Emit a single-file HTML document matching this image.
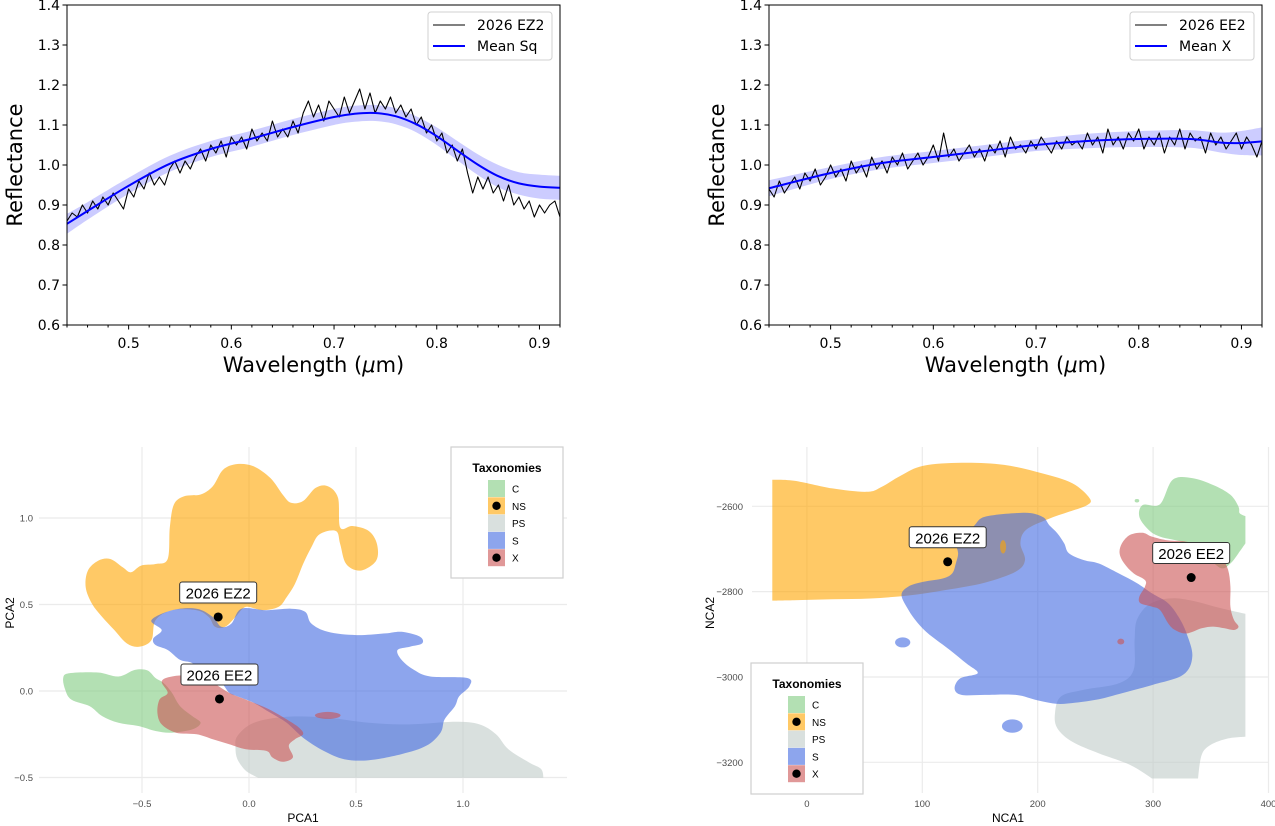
<!DOCTYPE html>
<html><head><meta charset="utf-8">
<style>
html,body{margin:0;padding:0;background:#fff;}
svg{display:block;}
.mpl{font-family:"DejaVu Sans","Liberation Sans",sans-serif;}
.gg{font-family:"Liberation Sans",sans-serif;}
</style></head>
<body>
<svg id="fig" width="1275" height="826" viewBox="0 0 1275 826" xmlns="http://www.w3.org/2000/svg">
<defs>
<clipPath id="clipPca"><rect x="30" y="440" width="545" height="338"/></clipPath>
<clipPath id="clipNca"><rect x="745" y="440" width="530" height="339"/></clipPath>
</defs>
<g id="spec1"></g>
<g id="spec2"></g>
<g id="pca"></g>
<g id="nca"></g>
</svg>
<script>
// ---------- spectra data ----------
const waveStart = 0.44, waveStep = 0.005;
const obsEZ2 = [0.86,0.88,0.87,0.90,0.88,0.91,0.89,0.92,0.90,0.93,0.91,0.89,0.94,0.92,0.96,0.94,0.98,0.95,0.97,0.95,0.99,1.01,0.98,1.01,0.99,1.02,1.04,1.01,1.05,1.03,1.06,1.02,1.07,1.05,1.07,1.04,1.09,1.06,1.08,1.06,1.11,1.07,1.09,1.07,1.11,1.08,1.13,1.16,1.12,1.15,1.11,1.16,1.14,1.12,1.17,1.13,1.16,1.19,1.14,1.18,1.13,1.16,1.14,1.17,1.13,1.15,1.12,1.14,1.10,1.12,1.08,1.10,1.06,1.08,1.03,1.05,1.01,1.04,0.98,0.93,0.97,0.94,0.97,0.93,0.95,0.91,0.95,0.90,0.92,0.89,0.91,0.87,0.90,0.88,0.90,0.91,0.87];
const obsEE2 = [0.94,0.92,0.96,0.93,0.95,0.97,0.94,0.98,0.96,0.99,0.95,0.97,1.00,0.97,0.99,0.96,1.01,0.98,1.00,0.97,1.02,0.99,1.01,0.98,1.02,1.00,1.03,0.99,1.01,1.03,1.00,1.02,1.05,1.01,1.08,1.02,1.04,1.01,1.03,1.05,1.02,1.04,1.01,1.05,1.03,1.06,1.02,1.07,1.04,1.05,1.03,1.06,1.04,1.07,1.05,1.03,1.06,1.04,1.07,1.05,1.06,1.04,1.08,1.05,1.07,1.03,1.09,1.05,1.07,1.04,1.08,1.06,1.09,1.04,1.07,1.05,1.08,1.03,1.07,1.05,1.09,1.04,1.08,1.06,1.07,1.03,1.08,1.05,1.07,1.04,1.06,1.08,1.04,1.07,1.05,1.02,1.06];
const meanSqX = [0.44,0.46,0.50,0.54,0.58,0.62,0.66,0.70,0.72,0.74,0.76,0.78,0.80,0.82,0.84,0.86,0.88,0.90,0.92];
const meanSqY = [0.853,0.885,0.948,1.003,1.040,1.066,1.095,1.120,1.128,1.130,1.122,1.102,1.072,1.036,1.001,0.972,0.954,0.946,0.943];
const bandSq  = [0.025,0.022,0.02,0.02,0.02,0.02,0.02,0.02,0.02,0.02,0.02,0.02,0.022,0.024,0.026,0.028,0.028,0.03,0.03];
const meanXX = [0.44,0.50,0.55,0.60,0.65,0.70,0.75,0.80,0.85,0.88,0.90,0.92];
const meanXY = [0.942,0.980,1.005,1.020,1.035,1.050,1.060,1.065,1.065,1.056,1.055,1.059];
const bandX  = [0.02,0.015,0.015,0.015,0.015,0.015,0.018,0.02,0.022,0.025,0.03,0.035];
const reflTicks = [0.6,0.7,0.8,0.9,1.0,1.1,1.2,1.3,1.4];
const waveTicks = [0.5,0.6,0.7,0.8,0.9];

// ---------- PCA data (data units) ----------
const pcaXTicks = [-0.5,0.0,0.5,1.0];
const pcaYTicks = [-0.5,0.0,0.5,1.0];
const pcaC = [[-0.868,0.075],[-0.840,0.103],[-0.706,0.107],[-0.610,0.084],[-0.533,0.122],[-0.475,0.119],[-0.437,0.075],[-0.399,0.046],[-0.360,-0.011],[-0.322,-0.088],[-0.265,-0.145],[-0.226,-0.184],[-0.265,-0.222],[-0.360,-0.241],[-0.437,-0.231],[-0.514,-0.203],[-0.610,-0.184],[-0.686,-0.145],[-0.744,-0.088],[-0.830,-0.050],[-0.859,0.008]];
const pcaNS = [[-0.753,0.696],[-0.705,0.753],[-0.648,0.763],[-0.590,0.715],[-0.552,0.686],[-0.504,0.725],[-0.437,0.734],[-0.380,0.763],[-0.370,0.945],[-0.351,1.078],[-0.303,1.126],[-0.226,1.136],[-0.169,1.184],[-0.121,1.279],[-0.054,1.312],[0.023,1.298],[0.100,1.231],[0.157,1.136],[0.196,1.088],[0.253,1.098],[0.311,1.174],[0.368,1.184],[0.416,1.117],[0.426,0.945],[0.483,0.954],[0.560,0.925],[0.598,0.849],[0.594,0.753],[0.521,0.696],[0.454,0.734],[0.426,0.849],[0.406,0.925],[0.330,0.906],[0.291,0.830],[0.253,0.734],[0.215,0.620],[0.176,0.543],[0.138,0.486],[0.061,0.467],[-0.015,0.486],[-0.063,0.428],[-0.111,0.371],[-0.159,0.371],[-0.188,0.428],[-0.245,0.467],[-0.360,0.467],[-0.437,0.409],[-0.456,0.294],[-0.514,0.256],[-0.571,0.275],[-0.629,0.352],[-0.686,0.428],[-0.734,0.505],[-0.763,0.600]];
const pcaPS = [[-0.054,-0.260],[0.023,-0.184],[0.176,-0.149],[0.368,-0.155],[0.560,-0.184],[0.752,-0.193],[0.962,-0.178],[1.077,-0.193],[1.154,-0.250],[1.212,-0.337],[1.308,-0.413],[1.365,-0.451],[1.375,-0.501],[1.375,-0.501],[0.042,-0.501],[0.042,-0.501],[-0.015,-0.461],[-0.054,-0.394],[-0.063,-0.327]];
const pcaS = [[-0.456,0.409],[-0.360,0.467],[-0.245,0.476],[-0.169,0.428],[-0.130,0.371],[-0.082,0.390],[-0.035,0.476],[0.081,0.467],[0.196,0.476],[0.263,0.457],[0.291,0.390],[0.368,0.342],[0.502,0.323],[0.637,0.333],[0.713,0.342],[0.799,0.314],[0.809,0.275],[0.752,0.256],[0.694,0.237],[0.713,0.180],[0.771,0.122],[0.847,0.084],[1.020,0.075],[1.030,0.027],[0.982,-0.031],[0.962,-0.088],[0.914,-0.164],[0.895,-0.241],[0.828,-0.317],[0.713,-0.365],[0.560,-0.400],[0.445,-0.394],[0.349,-0.346],[0.253,-0.270],[0.176,-0.184],[0.100,-0.126],[0.023,-0.069],[-0.054,-0.031],[-0.092,-0.011],[-0.130,0.046],[-0.207,0.103],[-0.265,0.161],[-0.322,0.180],[-0.380,0.237],[-0.437,0.266],[-0.447,0.304],[-0.408,0.352]];
const pcaX = [[-0.408,0.055],[-0.360,0.084],[-0.265,0.088],[-0.169,0.046],[-0.092,-0.011],[-0.015,-0.050],[0.081,-0.098],[0.176,-0.164],[0.234,-0.212],[0.253,-0.250],[0.215,-0.279],[0.186,-0.317],[0.205,-0.384],[0.157,-0.409],[0.109,-0.384],[0.081,-0.346],[-0.015,-0.337],[-0.092,-0.308],[-0.169,-0.279],[-0.245,-0.250],[-0.341,-0.241],[-0.408,-0.193],[-0.428,-0.126],[-0.418,-0.050],[-0.380,-0.011]];
const pcaXSmall = [0.368,-0.141,0.06,0.02];
const pcaPoints = [["2026 EZ2",-0.144,0.428],["2026 EE2",-0.138,-0.046]];

// ---------- NCA data ----------
const ncaXTicks = [0,100,200,300,400];
const ncaYTicks = [-3200,-3000,-2800,-2600];
const ncaC = [[288,-2624],[291,-2597],[306,-2595],[317,-2538],[334,-2534],[352,-2550],[367,-2573],[374,-2601],[375,-2616],[380,-2623],[380,-2623],[380,-2687],[380,-2687],[374,-2710],[367,-2734],[359,-2745],[346,-2718],[329,-2687],[306,-2671],[296,-2655]];
const ncaNS = [[-30,-2538],[-30,-2538],[-11,-2540],[22,-2558],[52,-2566],[65,-2554],[82,-2527],[101,-2505],[134,-2498],[171,-2503],[204,-2523],[230,-2546],[245,-2581],[243,-2597],[227,-2613],[209,-2630],[190,-2655],[185,-2687],[189,-2726],[181,-2753],[154,-2779],[121,-2796],[88,-2809],[55,-2816],[22,-2818],[-11,-2820],[-30,-2821],[-30,-2821]];
const ncaPS = [[215,-3085],[220,-3046],[240,-3030],[270,-3015],[283,-2984],[284,-2913],[286,-2866],[296,-2831],[313,-2816],[332,-2820],[359,-2839],[380,-2852],[380,-2852],[380,-3140],[380,-3140],[365,-3144],[350,-3159],[342,-3183],[339,-3238],[339,-3238],[299,-3238],[299,-3238],[280,-3206],[253,-3179],[230,-3152],[217,-3120]];
const ncaS = [[82,-2808],[88,-2788],[101,-2777],[118,-2769],[126,-2757],[129,-2734],[131,-2710],[128,-2687],[121,-2663],[108,-2654],[121,-2648],[141,-2652],[151,-2628],[164,-2620],[181,-2616],[194,-2616],[205,-2626],[210,-2644],[217,-2663],[223,-2687],[227,-2710],[240,-2726],[253,-2734],[270,-2757],[286,-2780],[299,-2804],[313,-2827],[322,-2859],[329,-2898],[334,-2952],[326,-2995],[299,-3019],[273,-3038],[253,-3052],[233,-3060],[217,-3063],[200,-3055],[181,-3042],[154,-3042],[134,-3042],[128,-3027],[133,-3003],[148,-2991],[138,-2968],[124,-2937],[105,-2898],[95,-2870],[88,-2843]];
const ncaX = [[273,-2687],[280,-2667],[291,-2662],[299,-2671],[313,-2680],[329,-2683],[349,-2698],[359,-2718],[365,-2749],[367,-2788],[367,-2835],[370,-2866],[374,-2882],[370,-2890],[362,-2886],[352,-2882],[342,-2886],[329,-2898],[319,-2890],[313,-2874],[306,-2843],[299,-2835],[289,-2827],[288,-2812],[293,-2788],[293,-2773],[283,-2757],[275,-2734],[271,-2710]];
const ncaSmallS = [[83,-2919,6.6,11.7],[178,-3115,9,15.6]];
const ncaSmallNS = [[170,-2695,2.6,15.6]];
const ncaSmallC = [[286,-2587,2,4]];
const ncaSmallX = [[272,-2917,3,7]];
const ncaPoints = [["2026 EZ2",122,-2730],["2026 EE2",333,-2767]];

const taxNames = ["C","NS","PS","S","X"];
const taxColors = {C:"#80cc80",NS:"#ffa500",PS:"#c0ccc8",S:"#4169e1",X:"#cc5353"};

// ---------- helpers ----------
const NS_ = "http://www.w3.org/2000/svg";
function mk(parent, tag, attrs, text){
  const e = document.createElementNS(NS_, tag);
  for (const k in attrs) e.setAttribute(k, attrs[k]);
  if (text !== undefined) e.textContent = text;
  parent.appendChild(e);
  return e;
}
function same(a,b){return Math.abs(a[0]-b[0])<0.01 && Math.abs(a[1]-b[1])<0.01;}
function smoothClosed(pts){
  const n = pts.length;
  const tan = pts.map((p,i)=>{
    const pr=pts[(i-1+n)%n], nx=pts[(i+1)%n];
    if (same(p,pr)||same(p,nx)) return [0,0];
    return [(nx[0]-pr[0])/6,(nx[1]-pr[1])/6];
  });
  let d = "M"+pts[0][0].toFixed(1)+","+pts[0][1].toFixed(1);
  for (let i=0;i<n;i++){
    const j=(i+1)%n, p1=pts[i], p2=pts[j];
    if (same(p1,p2)) continue;
    const c1=[p1[0]+tan[i][0],p1[1]+tan[i][1]];
    const c2=[p2[0]-tan[j][0],p2[1]-tan[j][1]];
    d+="C"+c1[0].toFixed(1)+","+c1[1].toFixed(1)+" "+c2[0].toFixed(1)+","+c2[1].toFixed(1)+" "+p2[0].toFixed(1)+","+p2[1].toFixed(1);
  }
  return d+"Z";
}
function smoothOpen(pts){
  const n=pts.length; let d="M"+pts[0][0].toFixed(1)+","+pts[0][1].toFixed(1);
  for(let i=0;i<n-1;i++){
    const p0=pts[Math.max(i-1,0)],p1=pts[i],p2=pts[i+1],p3=pts[Math.min(i+2,n-1)];
    const c1=[p1[0]+(p2[0]-p0[0])/6,p1[1]+(p2[1]-p0[1])/6];
    const c2=[p2[0]-(p3[0]-p1[0])/6,p2[1]-(p3[1]-p1[1])/6];
    d+="C"+c1[0].toFixed(1)+","+c1[1].toFixed(1)+" "+c2[0].toFixed(1)+","+c2[1].toFixed(1)+" "+p2[0].toFixed(1)+","+p2[1].toFixed(1);
  }
  return d;
}

// ---------- spectrum chart ----------
function spectrum(g, x0, obs, obsName, mX, mY, band, meanName){
  const L=x0, R=x0+493, T=5, B=325;
  const xs = v => L + (v-0.44)/(0.48)*(R-L);
  const ys = v => B - (v-0.6)/0.8*(B-T);
  const up = mX.map((x,i)=>[xs(x),ys(mY[i]+band[i])]);
  const dn = mX.map((x,i)=>[xs(x),ys(mY[i]-band[i])]).reverse();
  let bd = smoothOpen(up) + " L" + smoothOpen(dn).slice(1) + "Z";
  const bp = mk(g,"path",{d:bd,fill:"#0000ff","fill-opacity":"0.2",stroke:"none"});
  
  
  const op = obs.map((v,i)=>(i?"L":"M")+xs(waveStart+i*waveStep).toFixed(1)+","+ys(v).toFixed(1)).join("");
  const ol = mk(g,"path",{d:op,fill:"none",stroke:"#000","stroke-width":"1.1","stroke-linejoin":"round"});
  
  
  const ml = mk(g,"path",{d:smoothOpen(mX.map((x,i)=>[xs(x),ys(mY[i])])),fill:"none",stroke:"#0000ff","stroke-width":"2"});
  
  
  const fr = mk(g,"rect",{x:L,y:T,width:R-L,height:B-T,fill:"none",stroke:"#000","stroke-width":"1"});
  
  
  reflTicks.forEach(v=>{
    mk(g,"line",{x1:L-4.5,x2:L,y1:ys(v),y2:ys(v),stroke:"#000","stroke-width":"1"});
    const t = mk(g,"text",{x:L-7,y:ys(v)+5,"text-anchor":"end","font-size":"14",class:"mpl"},v.toFixed(1));
    
    
  });
  for(let v=0.44; v<=0.9201; v+=0.02){
    const maj = waveTicks.some(w=>Math.abs(w-v)<1e-6);
    mk(g,"line",{x1:xs(v),x2:xs(v),y1:B,y2:B+(maj?4.5:2.5),stroke:"#000","stroke-width":"1"});
  }
  waveTicks.forEach(v=>{
    const t=mk(g,"text",{x:xs(v),y:348,"text-anchor":"middle","font-size":"14",class:"mpl"},v.toFixed(1));
    
    
  });
  const xt = mk(g,"text",{x:(L+R)/2,y:372,"text-anchor":"middle","font-size":"21",class:"mpl"});
  xt.innerHTML = 'Wavelength (<tspan font-style="italic">μ</tspan>m)';
  
  
  const yt = mk(g,"text",{x:0,y:0,"text-anchor":"middle","font-size":"21",class:"mpl",transform:`translate(${L-45},165) rotate(-90)`},"Reflectance");
  
  
  const lg = mk(g,"g",{});
  
  
  mk(lg,"rect",{x:R-132,y:12,width:124,height:48,rx:3,fill:"#fff","fill-opacity":"0.8",stroke:"#d0d0d0"});
  mk(lg,"line",{x1:R-127,x2:R-95,y1:25,y2:25,stroke:"#000","stroke-width":"1.1"});
  mk(lg,"line",{x1:R-127,x2:R-95,y1:46,y2:46,stroke:"#0000ff","stroke-width":"2"});
  const l1 = mk(lg,"text",{x:R-83,y:30,"font-size":"14",class:"mpl"},obsName);
  
  
  const l2 = mk(lg,"text",{x:R-83,y:51,"font-size":"14",class:"mpl"},meanName);
  
  
}
spectrum(document.getElementById("spec1"),67,obsEZ2,"2026 EZ2",meanSqX,meanSqY,bandSq,"Mean Sq");
spectrum(document.getElementById("spec2"),769,obsEE2,"2026 EE2",meanXX,meanXY,bandX,"Mean X");

// ---------- taxonomy map chart ----------
function taxMap(g, cfg){
  const {xs,ys,xTicks,yTicks,gx0,gx1,gy0,gy1,fmtX,fmtY,blobs,smalls,points,xTitle,yTitle,xTitleX,yTitleX,yLabelR,legX,legY,clip} = cfg;
  xTicks.forEach(v=>{ const l=mk(g,"line",{x1:xs(v),x2:xs(v),y1:gy0,y2:gy1,stroke:"#ebebeb","stroke-width":"1.2"});
      });
  yTicks.forEach(v=>{ const l=mk(g,"line",{x1:gx0,x2:gx1,y1:ys(v),y2:ys(v),stroke:"#ebebeb","stroke-width":"1.2"});
      });
  const rg = mk(g,"g",{"clip-path":"url(#"+clip+")"});
  
  
  taxNames.forEach(n=>{
    if(blobs[n]){
      const p = mk(rg,"path",{d:smoothClosed(blobs[n].map(q=>[xs(q[0]),ys(q[1])])),fill:taxColors[n],"fill-opacity":"0.6",stroke:"none"});
      
      
    }
  });
  taxNames.forEach(n=>{
    (smalls[n]||[]).forEach(s=>{
      const e = mk(rg,"ellipse",{cx:xs(s[0]),cy:ys(s[1]),rx:Math.abs(xs(s[0]+s[2])-xs(s[0])),ry:Math.abs(ys(s[1]+s[3])-ys(s[1])),fill:taxColors[n],"fill-opacity":"0.6"});
      
      
    });
  });
  points.forEach(p=>{
    const px=xs(p[1]), py=ys(p[2]);
    const c = mk(g,"circle",{cx:px,cy:py,r:4.5,fill:"#000"});
    
    
    const w=77,h=21;
    const r = mk(g,"rect",{x:px-w/2,y:py-h-14,width:w,height:h,rx:2.5,fill:"#fff",stroke:"#333","stroke-width":"1"});
    
    
    const t = mk(g,"text",{x:px,y:py-18.5,"text-anchor":"middle","font-size":"15",class:"gg",fill:"#000"},p[0]);
    
    
  });
  xTicks.forEach(v=>{ const t=mk(g,"text",{x:xs(v),y:807,"text-anchor":"middle","font-size":"9.5",fill:"#4d4d4d",class:"gg"},fmtX(v));
      });
  yTicks.forEach(v=>{ const t=mk(g,"text",{x:yLabelR,y:ys(v)+3.5,"text-anchor":"end","font-size":"9.5",fill:"#4d4d4d",class:"gg"},fmtY(v));
      });
  const xt=mk(g,"text",{x:xTitleX,y:822,"text-anchor":"middle","font-size":"12",fill:"#000",class:"gg"},xTitle);
   
  const yt=mk(g,"text",{x:0,y:0,"text-anchor":"middle","font-size":"12",fill:"#000",class:"gg",transform:`translate(${yTitleX},613) rotate(-90)`},yTitle);
   
  const lg = mk(g,"g",{});
  
  
  mk(lg,"rect",{x:legX,y:legY,width:112,height:131,fill:"#fff",stroke:"#cfcfcf","stroke-width":"1.2"});
  mk(lg,"text",{x:legX+56,y:legY+25,"text-anchor":"middle","font-size":"12","font-weight":"bold",class:"gg"},"Taxonomies");
  taxNames.forEach((n,i)=>{
    const ky = legY+33+i*17.3;
    const e = mk(lg,"g",{});
    
    
    mk(e,"rect",{x:legX+37,y:ky,width:17,height:17,fill:taxColors[n],"fill-opacity":"0.6"});
    if(n==="NS"||n==="X") mk(e,"circle",{cx:legX+45.5,cy:ky+8.5,r:4.2,fill:"#000"});
    mk(e,"text",{x:legX+61,y:ky+12.5,"font-size":"10",class:"gg"},n);
  });
}
taxMap(document.getElementById("pca"),{
  xs:v=>249+214*v, ys:v=>691-173*v, xTicks:pcaXTicks, yTicks:pcaYTicks,
  gx0:39,gx1:567,gy0:447,gy1:793, fmtX:v=>(v<0?"−":"")+Math.abs(v).toFixed(1), fmtY:v=>(v<0?"−":"")+Math.abs(v).toFixed(1),
  blobs:{C:pcaC,NS:pcaNS,PS:pcaPS,S:pcaS,X:pcaX},
  smalls:{X:[pcaXSmall]}, points:pcaPoints, clip:"clipPca",
  xTitle:"PCA1",yTitle:"PCA2",xTitleX:303,yTitleX:14,yLabelR:33,legX:451,legY:447
});
taxMap(document.getElementById("nca"),{
  xs:v=>806.9+1.154*v, ys:v=>506.3+(-2600-v)*0.4267, xTicks:ncaXTicks, yTicks:ncaYTicks,
  gx0:752,gx1:1269,gy0:447,gy1:793, fmtX:v=>String(v), fmtY:v=>"−"+Math.abs(v),
  blobs:{C:ncaC,NS:ncaNS,PS:ncaPS,S:ncaS,X:ncaX},
  smalls:{S:ncaSmallS,NS:ncaSmallNS,C:ncaSmallC,X:ncaSmallX}, points:ncaPoints, clip:"clipNca",
  xTitle:"NCA1",yTitle:"NCA2",xTitleX:1008,yTitleX:714,yLabelR:743,legX:751,legY:663
});
</script>
</body></html>
